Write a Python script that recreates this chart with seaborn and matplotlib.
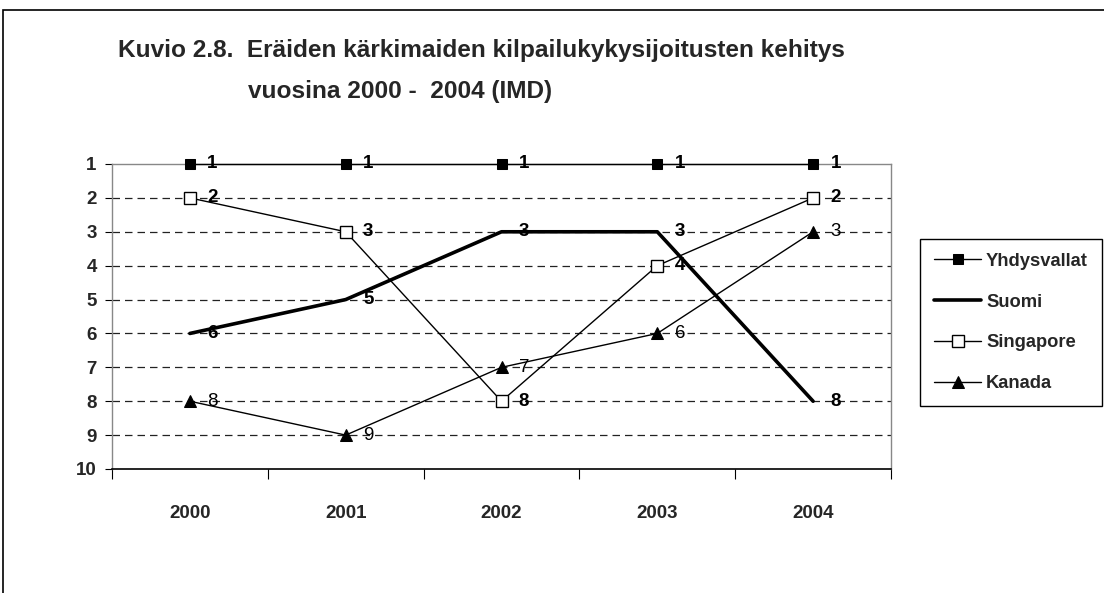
import matplotlib
matplotlib.use("Agg")
import matplotlib.pyplot as plt
from matplotlib.patches import Rectangle
import seaborn as sns
import pandas as pd
import numpy as np

years = ["2000", "2001", "2002", "2003", "2004"]
yhdysvallat = [1, 1, 1, 1, 1]
suomi = [6, 5, 3, 3, 8]
singapore = [2, 3, 8, 4, 2]
kanada = [8, 9, 7, 6, 3]
y_ticks = [1, 2, 3, 4, 5, 6, 7, 8, 9, 10]

sns.set_theme(style="white")
plt.rcParams['font.family'] = ['Liberation Sans', 'DejaVu Sans']

W, H = 1104, 593
fig = plt.figure(figsize=(W / 100, H / 100), dpi=100)
ax = fig.add_axes([112 / W, 1 - 469 / H, (891 - 112) / W, (469 - 164) / H])

x = np.arange(len(years))
series = [
    ("Yhdysvallat", yhdysvallat, dict(color="black", lw=1.0, marker="s", ms=7,
                                      mfc="black", mec="black"), "bold"),
    ("Suomi", suomi, dict(color="black", lw=2.6, marker=None), "bold"),
    ("Singapore", singapore, dict(color="black", lw=1.0, marker="s", ms=8,
                                  mfc="white", mec="black", mew=1.0), "bold"),
    ("Kanada", kanada, dict(color="black", lw=1.0, marker="^", ms=8.5,
                            mfc="black", mec="black"), "normal"),
]

# gridlines
for v in range(2, 10):
    ax.axhline(v, color="#222222", lw=0.9, ls=(0, (6, 4)), zorder=1)

for name, vals, st, wt in series:
    df = pd.DataFrame({"x": x, "y": vals})
    sns.lineplot(data=df, x="x", y="y", ax=ax, label=name, clip_on=False,
                 zorder=3, legend=False, **st)
    for xi, yi in zip(x, vals):
        ax.annotate(str(yi), (xi, yi), xytext=(12.5, 0), textcoords="offset points",
                    ha="left", va="center", fontsize=13.5, fontweight=wt,
                    color="black", zorder=4)

ax.set_xlim(-0.5, len(years) - 0.5)
ax.set_ylim(10, 1)
ax.set_yticks(y_ticks)
ax.set_yticklabels([str(v) for v in y_ticks], fontsize=13.5, fontweight="bold")
ax.set_xticks(np.arange(-0.5, len(years), 1.0))
ax.set_xticklabels([])
ax.set_xticks(x, minor=True)
ax.set_xticklabels(years, minor=True, fontsize=13.5, fontweight="bold")
ax.tick_params(axis="x", which="major", direction="out", length=7, width=0.8,
               color="black", bottom=True)
ax.tick_params(axis="x", which="minor", length=0, pad=26)
ax.tick_params(axis="y", direction="out", length=5, width=0.8, color="black",
               left=True, pad=6)
ax.set_xlabel("")
ax.set_ylabel("")
for s in ["left", "right", "top"]:
    ax.spines[s].set_color("#888888")
    ax.spines[s].set_linewidth(1.0)
    ax.spines[s].set_visible(True)
ax.spines["bottom"].set_color("black")
ax.spines["bottom"].set_linewidth(1.2)
ax.set_facecolor("white")

h, l = ax.get_legend_handles_labels()
leg = fig.legend(h, l, loc="upper left", bbox_to_anchor=(920 / W, 1 - 239 / H),
                 frameon=True, fancybox=False, edgecolor="black", framealpha=1,
                 prop={"weight": "bold", "size": 13.2}, handlelength=2.6,
                 labelspacing=1.3, borderpad=0.75, handletextpad=0.25,
                 borderaxespad=0)
leg.get_frame().set_linewidth(1.0)

fig.text(118 / W, 1 - 50 / H,
         "Kuvio 2.8.  Eräiden kärkimaiden kilpailukykysijoitusten kehitys",
         fontsize=17.6, fontweight="bold", ha="left", va="center")
fig.text(248 / W, 1 - 92 / H, "vuosina 2000 -  2004 (IMD)",
         fontsize=17.6, fontweight="bold", ha="left", va="center")

fig.patches.append(Rectangle((3 / W, -0.1), 1.2, (H - 10) / H + 0.1,
                             transform=fig.transFigure, fill=False,
                             edgecolor="black", lw=1.2, zorder=0))

fig.savefig("out.png", dpi=100, facecolor="white")
